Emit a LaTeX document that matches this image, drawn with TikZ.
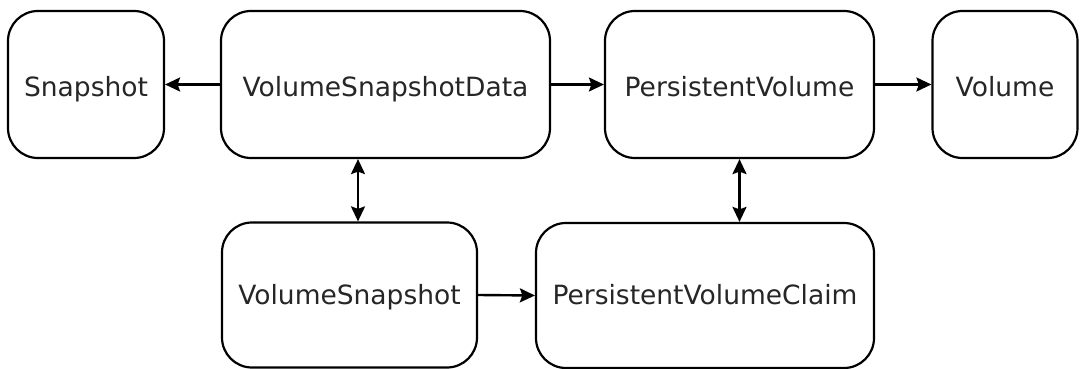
\documentclass[tikz,border=0pt]{standalone}
\usepackage{fontspec}
\setmainfont{DejaVu Sans}
\usetikzlibrary{arrows.meta}
\begin{document}
\begin{tikzpicture}[x=1pt,y=-1pt,
  box/.style={draw=black, line width=2.2pt, rounded corners=30pt, inner sep=0pt,
    minimum height=147pt, font=\fontsize{26.5}{30}\selectfont, text=black!85,
    text height=25pt, text depth=0pt},
  lowbox/.style={box, minimum height=145pt, text height=18pt},
  tip/.tip={Stealth[length=15pt,width=14pt,inset=2.5pt]},
  conn/.style={line width=2.4pt, -tip},
  conn2/.style={line width=2.4pt, tip-tip}]
\useasboundingbox (0,0) rectangle (1080,369);
\node[box, minimum width=156pt] (snap) at (86,84.5) {Snapshot};
\node[box, minimum width=329pt] (vsd) at (385.5,84.5) {VolumeSnapshotData};
\node[box, minimum width=269pt] (pv) at (739.5,84.5) {PersistentVolume};
\node[box, minimum width=145pt] (vol) at (1005,84.5) {Volume};
\node[lowbox, minimum width=255pt] (vs) at (349.5,295) {VolumeSnapshot};
\node[lowbox, minimum width=338pt] (pvc) at (705,295.5) {PersistentVolumeClaim};
\coordinate (vsx) at (358,0);
\draw[conn] (vsd.west) -- (snap.east);
\draw[conn] (vsd.east) -- (pv.west);
\draw[conn] (pv.east) -- (vol.west);
\draw[conn] (vs.east) -- (pvc.west);
\draw[conn2] (vsd.south -| vsx) -- (vs.north -| vsx);
\draw[conn2] (pv.south) -- (pvc.north -| pv.south);
\end{tikzpicture}
\end{document}
